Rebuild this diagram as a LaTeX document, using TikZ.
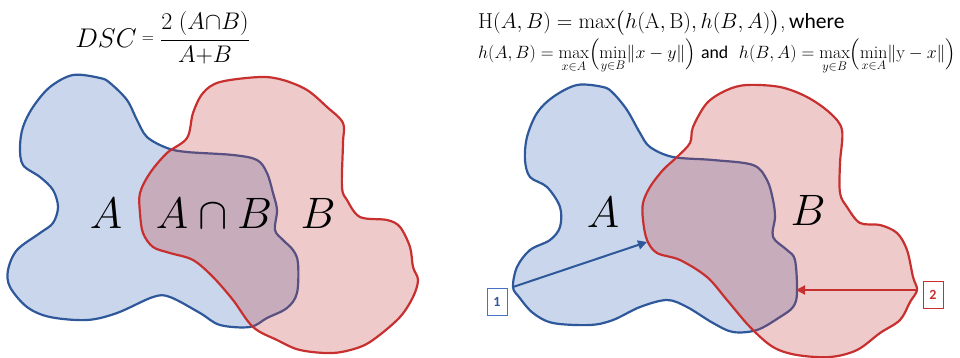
\RequirePackage{fix-cm}
\documentclass[tikz,border=0pt]{standalone}
\usepackage{amsmath}
\usepackage{fontspec}
\newfontfamily\carlito{Carlito}
\usetikzlibrary{arrows.meta}
\definecolor{Afill}{RGB}{201,214,236}
\definecolor{Aline}{RGB}{47,88,155}
\definecolor{Bfill}{RGB}{197,59,59}
\definecolor{Bline}{RGB}{200,48,48}
\definecolor{Onebox}{RGB}{68,114,196}
\begin{document}
\begin{tikzpicture}[x=1pt,y=-1pt,
  shapeA/.style={fill=Afill,draw=Aline,line width=2.2pt,line join=round},
  shapeBfill/.style={fill=Bfill,fill opacity=0.27},
  shapeBline/.style={draw=Bline,line width=2.2pt,line join=round},
  biglabel/.style={font=\fontsize{44}{48}\selectfont,inner sep=0pt},
  tag/.style={draw,line width=0.9pt,minimum width=20pt,minimum height=27pt,inner sep=0pt,font=\carlito\bfseries\fontsize{14}{16}\selectfont},
  arr/.style={line width=2pt,-{Triangle[length=9pt,width=9pt]}}]
\useasboundingbox (0,0) rectangle (960,357);
% ---------- left picture ----------
\path[shapeA] plot[smooth cycle,tension=0.55] coordinates {(73,75) (100,78) (110,83) (127,100) (137,120) (147,137) (167,148) (187,152) (233,155) (257,160) (267,173) (273,193) (277,210) (275,230) (283,240) (293,250) (298,263) (297,293) (287,308) (267,318) (250,327) (220,325) (200,313) (170,297) (153,297) (117,313) (87,320) (50,317) (27,307) (10,287) (8,270) (17,250) (40,233) (53,223) (58,207) (53,190) (40,177) (23,165) (20,147) (23,127) (33,107) (50,87)};
\path[shapeBfill] plot[smooth cycle,tension=0.55] coordinates {(187,138) (193,113) (203,93) (220,82) (260,77) (283,80) (307,90) (327,107) (343,123) (343,143) (342,187) (347,200) (360,217) (387,220) (400,227) (410,247) (413,267) (418,280) (413,297) (400,317) (377,337) (360,347) (333,353) (300,350) (277,340) (253,327) (233,300) (213,277) (193,260) (170,253) (153,247) (143,233) (140,213) (140,193) (150,173) (167,153)};
\path[shapeBline] plot[smooth cycle,tension=0.55] coordinates {(187,138) (193,113) (203,93) (220,82) (260,77) (283,80) (307,90) (327,107) (343,123) (343,143) (342,187) (347,200) (360,217) (387,220) (400,227) (410,247) (413,267) (418,280) (413,297) (400,317) (377,337) (360,347) (333,353) (300,350) (277,340) (253,327) (233,300) (213,277) (193,260) (170,253) (153,247) (143,233) (140,213) (140,193) (150,173) (167,153)};
\node[biglabel] (la) at (106,213) {$A$};
\node[biglabel] (lab) at (214,213) {$A\cap B$};
\node[biglabel] (lb) at (318,213) {$B$};
% DSC formula
\node[inner sep=0pt,font=\fontsize{27}{30}\selectfont] (dsc) at (106,38) {$DSC$};
\node[inner sep=0pt,font=\fontsize{16}{18}\selectfont] (eq) at (148,40) {$=$};
\node[inner sep=0pt,font=\fontsize{24}{28}\selectfont] (frac) at (205,38) {$\dfrac{2\;(A{\cap}B)}{A{+}B}$};
% ---------- right picture ----------
\path[shapeA] plot[smooth cycle,tension=0.55] coordinates {(577,85) (603,87) (613,93) (627,110) (640,133) (650,147) (673,157) (713,160) (753,165) (767,180) (773,200) (775,217) (773,237) (787,250) (795,260) (797,293) (793,307) (780,317) (757,330) (733,332) (713,323) (687,307) (667,300) (640,307) (613,320) (590,325) (553,323) (533,313) (519,297) (513,287) (517,267) (530,250) (550,240) (560,227) (560,207) (547,187) (530,177) (525,160) (527,137) (537,113) (553,97)};
\path[shapeBfill] plot[smooth cycle,tension=0.55] coordinates {(677,157) (690,143) (693,127) (707,103) (727,90) (747,85) (780,87) (807,97) (830,113) (842,130) (840,163) (840,193) (847,207) (860,223) (880,225) (897,233) (907,250) (913,277) (917,290) (910,302) (900,320) (880,333) (857,350) (830,357) (797,355) (773,347) (750,327) (727,300) (707,277) (680,260) (657,253) (647,240) (643,220) (643,203) (650,187) (663,170)};
\path[shapeBline] plot[smooth cycle,tension=0.55] coordinates {(677,157) (690,143) (693,127) (707,103) (727,90) (747,85) (780,87) (807,97) (830,113) (842,130) (840,163) (840,193) (847,207) (860,223) (880,225) (897,233) (907,250) (913,277) (917,290) (910,302) (900,320) (880,333) (857,350) (830,357) (797,355) (773,347) (750,327) (727,300) (707,277) (680,260) (657,253) (647,240) (643,220) (643,203) (650,187) (663,170)};
\node[biglabel] (ra) at (603,212) {$A$};
\node[biglabel] (rb) at (808,210) {$B$};
\coordinate (p1s) at (513,287);
\coordinate (p1e) at (647,242);
\coordinate (p2s) at (917,290);
\coordinate (p2e) at (796,290);
\draw[arr,Aline] (p1s) -- (p1e);
\draw[arr,Bline] (p2s) -- (p2e);
\node[tag,draw=Onebox,text=Aline] (t1) at (497,302) {1};
\node[tag,draw=Bline,text=Bline] (t2) at (933,295) {2};
% Hausdorff formula
\node[anchor=base west,inner sep=0pt,font=\fontsize{21.6}{24}\selectfont] (hd) at (478,28.5)
  {$\mathrm{H}(A,B)=\max\bigl(h(\mathrm{A},\mathrm{B}),h(B,A)\bigr)$,\,{\carlito where}};
\node[anchor=base west,inner sep=0pt,font=\fontsize{17.8}{20}\selectfont] (hh) at (478,58.5)
  {$h(A,B)=\max\limits_{x\in A}\Bigl(\min\limits_{y\in B}\lVert x-y\rVert\Bigr)$ {\carlito and}\ \ $h(B,A)=\max\limits_{y\in B}\Bigl(\min\limits_{x\in A}\lVert \mathrm{y}-x\rVert\Bigr)$};
\end{tikzpicture}
\end{document}
